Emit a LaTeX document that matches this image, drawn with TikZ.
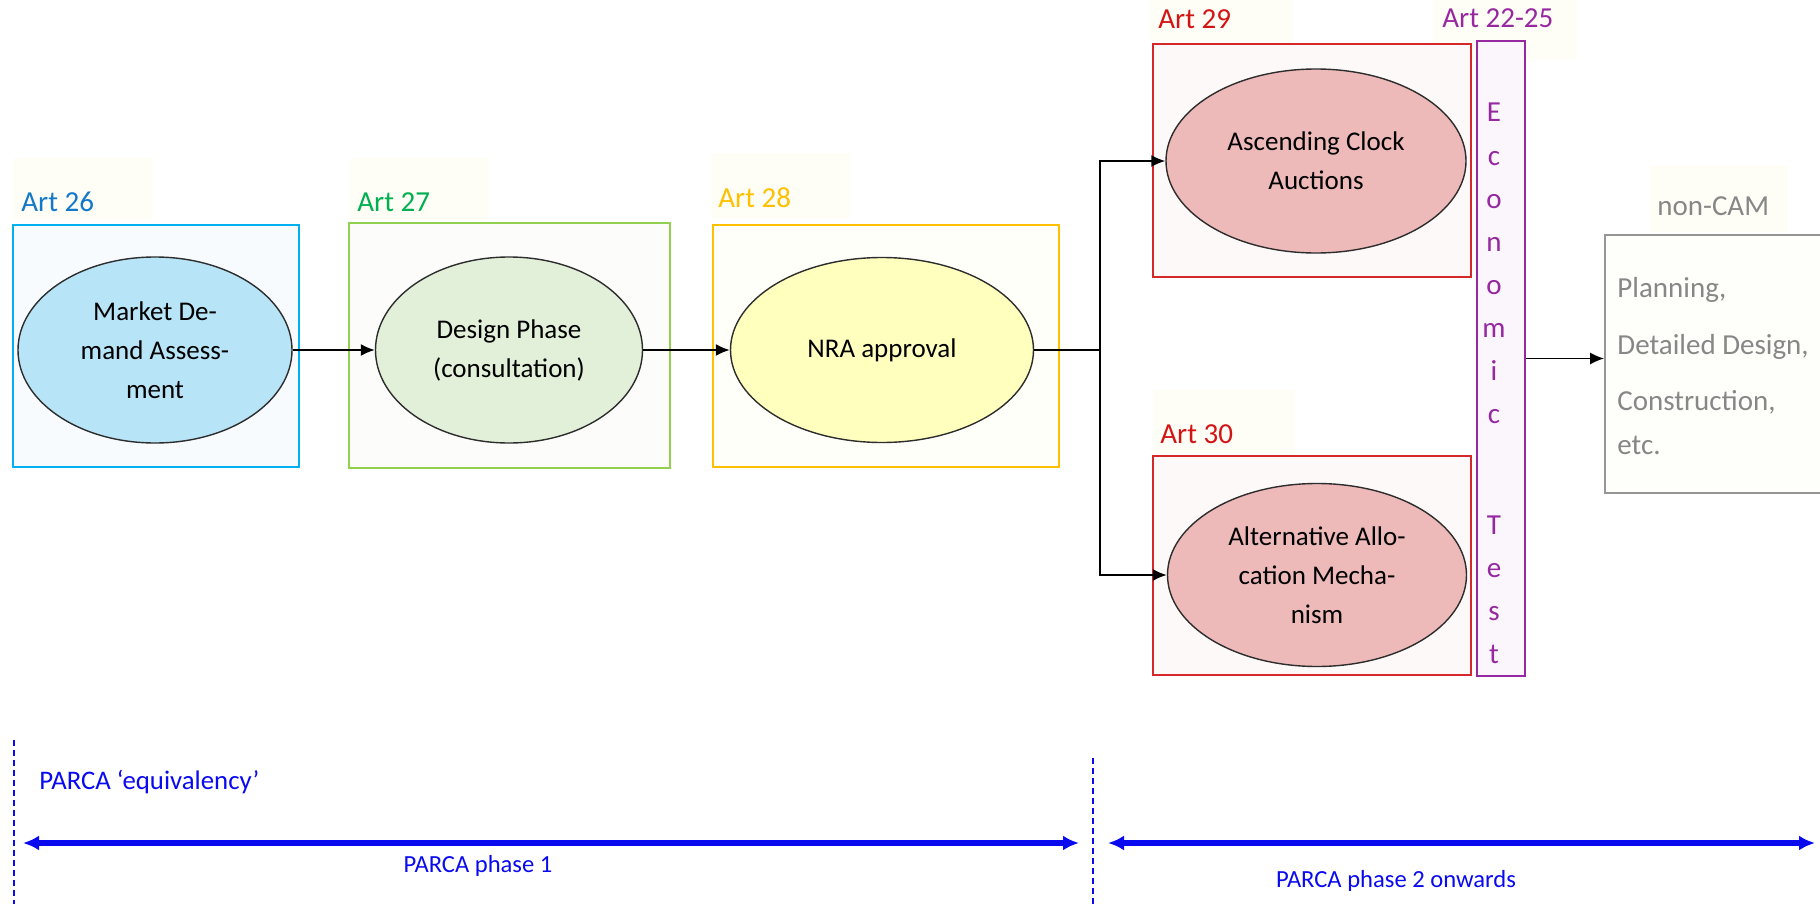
\documentclass[tikz,border=0pt]{standalone}
\usepackage{fontspec}
\setmainfont{Carlito}
\usetikzlibrary{arrows.meta,positioning,fit,shapes.geometric}

\definecolor{line26}{RGB}{0,176,240}
\definecolor{text26}{RGB}{20,120,200}
\definecolor{fill26}{RGB}{183,228,246}
\definecolor{back26}{RGB}{247,251,254}
\definecolor{line27}{RGB}{146,208,80}
\definecolor{text27}{RGB}{0,176,80}
\definecolor{fill27}{RGB}{226,239,217}
\definecolor{back27}{RGB}{252,252,250}
\definecolor{line28}{RGB}{255,192,0}
\definecolor{fill28}{RGB}{255,255,190}
\definecolor{back28}{RGB}{255,255,250}
\definecolor{line29}{RGB}{214,40,40}
\definecolor{text29}{RGB}{210,20,20}
\definecolor{fill29}{RGB}{237,185,185}
\definecolor{back29}{RGB}{253,249,249}
\definecolor{econline}{RGB}{150,40,160}
\definecolor{econback}{RGB}{250,246,252}
\definecolor{camline}{RGB}{150,150,150}
\definecolor{camtext}{RGB}{135,135,135}
\definecolor{camback}{RGB}{254,254,250}
\definecolor{lblback}{RGB}{254,254,247}
\definecolor{parca}{RGB}{10,10,240}

\begin{document}
\begin{tikzpicture}[x=0.5pt,y=-0.5pt,>={Latex[length=7pt,width=6pt]}]
	\tikzstyle{stage}=[ellipse,draw={rgb,255:red,45;green,45;blue,45},line width=0.7pt,inner sep=0pt,align=center,font=\fontsize{13.5}{19.5}\selectfont]
	\tikzstyle{artbox}=[rectangle,line width=0.9pt,inner sep=0pt]
	\tikzstyle{artlbl}=[anchor=base west,inner sep=0pt,font=\fontsize{14.5}{17}\selectfont]
	\tikzstyle{econlbl}=[anchor=base,inner sep=0pt,text=econline,font=\fontsize{14.5}{17}\selectfont]
	\tikzstyle{conn}=[->,line width=0.8pt]
	\tikzstyle{phase}=[{Latex[length=8pt,width=7.5pt]}-{Latex[length=8pt,width=7.5pt]},line width=2.6pt,parca]
	\tikzstyle{phaselbl}=[inner sep=0pt,text=parca,font=\fontsize{12.3}{15}\selectfont]

	\useasboundingbox (0,0) rectangle (1820,904);
	\fill[white] (0,0) rectangle (1820,904);

	% faint label backgrounds
	\fill[lblback] (13,158) rectangle (153,220);
	\fill[lblback] (350,158) rectangle (489,220);
	\fill[lblback] (711,153) rectangle (850,219);
	\fill[lblback] (1150,0) rectangle (1293,42);
	\fill[lblback] (1433,0) rectangle (1577,60);
	\fill[lblback] (1153,390) rectangle (1295,453);
	\fill[lblback] (1650,165) rectangle (1788,232);

	% article boxes
	\node[artbox,draw=line26,fill=back26,fit={(13,225) (299,467)}] (b26) {};
	\node[artbox,draw=line27,fill=back27,fit={(349,223) (670,468)}] (b27) {};
	\node[artbox,draw=line28,fill=back28,fit={(713,225) (1059,467)}] (b28) {};
	\node[artbox,draw=line29,fill=back29,fit={(1153,44) (1471,277)}] (b29) {};
	\node[artbox,draw=line29,fill=back29,fit={(1153,456) (1471,675)}] (b30) {};
	\node[artbox,draw=econline,fill=econback,fit={(1477,41) (1525,676)}] (econ) {};
	\node[artbox,draw=camline,fill=camback,fit={(1605,235) (1850,493)}] (noncam) {};

	\node[artlbl,text=text26] (l26) at (21,211) {Art 26};
	\node[artlbl,text=text27] (l27) at (357,211) {Art 27};
	\node[artlbl,text=line28] (l28) at (718,207) {Art 28};
	\node[artlbl,text=text29] (l29) at (1158,29) {Art 29};
	\node[artlbl,text=econline] (l2225) at (1442,28) {Art 22-25};
	\node[artlbl,text=text29] (l30) at (1160,443) {Art 30};
	\node[artlbl,text=camtext] (lcam) at (1657,215) {non-CAM};

	% stages
	\node[stage,fill=fill26,minimum width=137pt,minimum height=93pt] (mda) at (155,350) {Market De-\\mand Assess-\\ment};
	\node[stage,fill=fill27,minimum width=133.5pt,minimum height=93pt] (dp) at (509,350) {Design Phase\\(consultation)};
	\node[stage,fill=fill28,minimum width=151.5pt,minimum height=92.5pt] (nra) at (882,350) {NRA approval};
	\node[stage,fill=fill29,minimum width=150pt,minimum height=92pt] (aca) at (1316,161) {Ascending Clock\\Auctions};
	\node[stage,fill=fill29,minimum width=149.5pt,minimum height=91.5pt] (aam) at (1317,575) {Alternative Allo-\\cation Mecha-\\nism};

	\foreach \ch [count=\i from 0] in {E,c,o,n,o,m,i,c}
		\node[econlbl] (ea\i) at (1494,122+43*\i) {\ch};
	\foreach \ch [count=\i from 0] in {T,e,s,t}
		\node[econlbl] (eb\i) at (1494,534+43*\i) {\ch};

	\node[anchor=north west,align=left,inner sep=0pt,text=camtext,font=\fontsize{14.5}{22}\selectfont] (camtxt) at (1617,277) {Planning,\\[6.5pt]Detailed Design,\\[6pt]Construction,\\etc.};

	% flow
	\coordinate (split) at (1100,350);
	\draw[conn] (mda) -- (dp);
	\draw[conn] (dp) -- (nra);
	\draw[line width=0.8pt] (nra) -- (split);
	\draw[conn] (split) |- (aca);
	\draw[conn] (split) |- (aam);
	\draw[conn] (econ.east) -- (econ.east -| noncam.west);

	% PARCA phases
	\draw[parca,line width=0.6pt,dash pattern=on 3pt off 2pt] (14,740) -- (14,904);
	\draw[parca,line width=0.6pt,dash pattern=on 3pt off 2pt] (1093,758) -- (1093,904);
	\coordinate (p1a) at (23,843);
	\coordinate (p1b) at (1079,843);
	\coordinate (p2a) at (1108,843);
	\coordinate (p2b) at (1815,843);
	\draw[phase] (p1a) -- (p1b);
	\draw[phase] (p2a) -- (p2b);
	\node[phaselbl,anchor=base west,font=\fontsize{13.4}{16}\selectfont] (eqv) at (39,789) {PARCA ‘equivalency’};
	\node[phaselbl,anchor=base] (ph1) at (478,872) {PARCA phase 1};
	\node[phaselbl,anchor=base] (ph2) at (1396,887) {PARCA phase 2 onwards};
\end{tikzpicture}
\end{document}
